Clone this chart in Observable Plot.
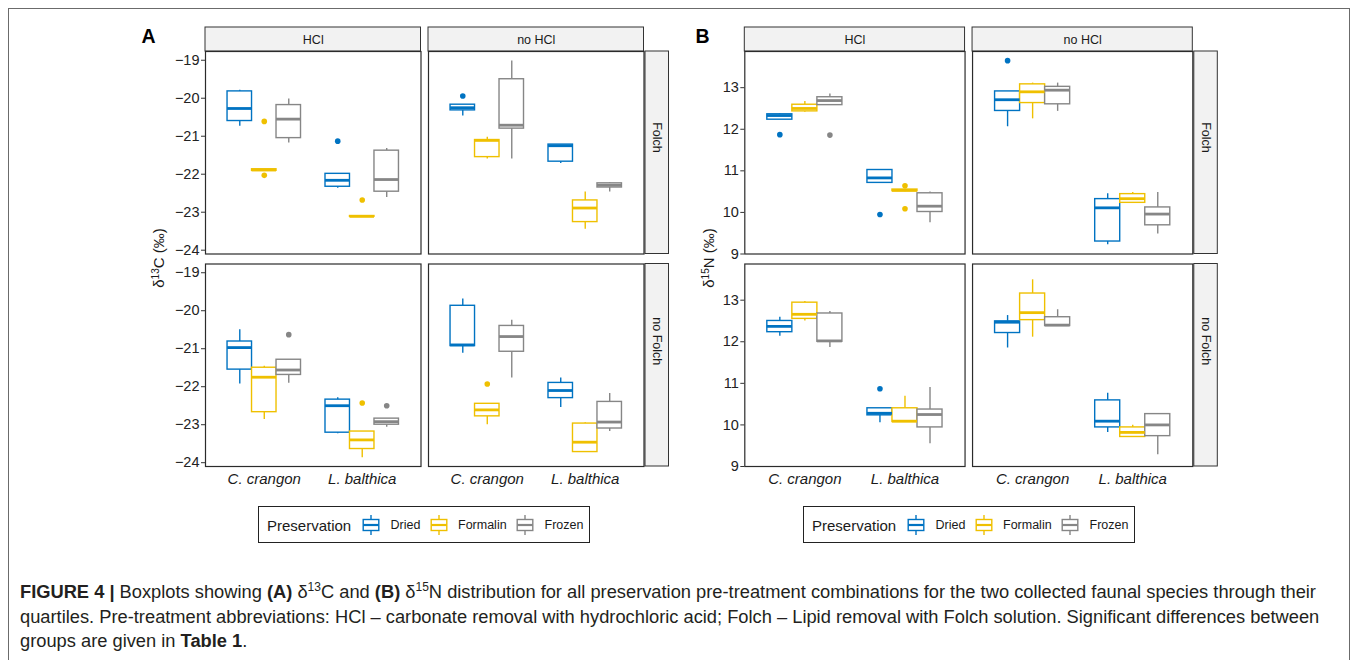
<!DOCTYPE html>
<html><head><meta charset="utf-8">
<script src="https://cdn.jsdelivr.net/npm/d3@7"></script>
<script src="https://cdn.jsdelivr.net/npm/@observablehq/plot@0.6"></script>
<style>
body{margin:0;background:#fff;}
#root{position:relative;width:1357px;height:660px;overflow:hidden;background:#fff;font-family:"Liberation Sans",Arial,sans-serif;color:#1a1a1a;}
.frame{position:absolute;left:8px;top:8px;width:1342px;height:700px;border:1px solid #6b6b6b;box-sizing:border-box;}
.letter{position:absolute;font-weight:bold;font-size:19.5px;line-height:19.5px;color:#000;}
.ytitle{position:absolute;font-size:15px;white-space:nowrap;transform:translate(-50%,-50%) rotate(-90deg);color:#1a1a1a;}
.ytitle sup{font-size:10px;vertical-align:5px;line-height:0;}
.legend{position:absolute;top:506px;width:332px;height:37px;border:1.3px solid #222;box-sizing:border-box;}
.legend .t{position:absolute;top:50%;transform:translateY(-50%);white-space:nowrap;}
.legend svg{position:absolute;top:50%;transform:translate(-50%,-50%);}
.caption{position:absolute;left:20px;top:580px;width:1330px;font-size:18.3px;line-height:24.5px;color:#231f20;white-space:nowrap;}
.caption sup{font-size:12px;vertical-align:7px;line-height:0;}
</style></head><body><div id="root"></div>
<script>
// ---------- categories ----------
const species = ["C. crangon", "L. balthica"];
const preservation = ["Dried", "Formalin", "Frozen"];
const hclLevels = ["HCl", "no HCl"];
const folchLevels = ["Folch", "no Folch"];
const palette = ["#0073C2", "#EFC000", "#868686"];

// ---------- tick labels ----------
const c13Ticks = [-24, -23, -22, -21, -20, -19];
const n15Ticks = [9, 10, 11, 12, 13];

// ---------- box statistics ----------
// each row: [lower whisker, Q1, median, Q3, upper whisker]
// rows: C. crangon Dried, Formalin, Frozen; L. balthica Dried, Formalin, Frozen
const c13_HCl_Folch = [
  [-20.74, -20.60, -20.27, -19.82, -19.79],
  [-21.92, -21.91, -21.89, -21.87, -21.87],
  [-21.18, -21.05, -20.55, -20.18, -20.02],
  [-22.37, -22.33, -22.16, -21.99, -21.99],
  [-23.12, -23.12, -23.11, -23.10, -23.10],
  [-22.61, -22.46, -22.14, -21.38, -21.32]
];
const c13_noHCl_Folch = [
  [-20.47, -20.32, -20.25, -20.17, -20.17],
  [-21.60, -21.55, -21.11, -21.10, -21.03],
  [-21.60, -20.80, -20.71, -19.50, -19.02],
  [-21.72, -21.67, -21.25, -21.22, -21.22],
  [-23.45, -23.26, -22.89, -22.69, -22.47],
  [-22.47, -22.35, -22.29, -22.24, -22.22]
];
const c13_HCl_noFolch = [
  [-21.93, -21.55, -20.97, -20.81, -20.50],
  [-22.86, -22.67, -21.75, -21.50, -21.46],
  [-21.91, -21.69, -21.56, -21.29, -21.29],
  [-23.24, -23.21, -22.50, -22.34, -22.29],
  [-23.87, -23.64, -23.40, -23.18, -23.18],
  [-23.07, -23.00, -22.92, -22.84, -22.84]
];
const c13_noHCl_noFolch = [
  [-21.12, -20.93, -20.90, -19.87, -19.69],
  [-23.00, -22.78, -22.61, -22.45, -22.45],
  [-21.77, -21.08, -20.68, -20.40, -20.25],
  [-22.55, -22.30, -22.10, -21.90, -21.77],
  [-23.72, -23.72, -23.46, -22.97, -22.95],
  [-23.18, -23.10, -22.93, -22.40, -22.18]
];
const n15_HCl_Folch = [
  [12.23, 12.23, 12.33, 12.36, 12.38],
  [12.41, 12.43, 12.50, 12.59, 12.67],
  [12.58, 12.58, 12.69, 12.77, 12.85],
  [10.71, 10.71, 10.83, 11.02, 11.02],
  [10.50, 10.51, 10.53, 10.55, 10.56],
  [9.75, 10.01, 10.15, 10.46, 10.49]
];
const n15_noHCl_Folch = [
  [12.06, 12.44, 12.71, 12.91, 12.91],
  [12.25, 12.63, 12.90, 13.08, 13.11],
  [12.43, 12.60, 12.94, 13.02, 13.11],
  [9.22, 9.30, 10.11, 10.32, 10.45],
  [10.23, 10.23, 10.33, 10.44, 10.48],
  [9.48, 9.69, 9.96, 10.12, 10.48]
];
const n15_HCl_noFolch = [
  [12.13, 12.23, 12.37, 12.50, 12.59],
  [12.50, 12.55, 12.66, 12.94, 12.97],
  [11.86, 12.00, 12.02, 12.68, 12.73],
  [10.05, 10.23, 10.28, 10.40, 10.40],
  [10.07, 10.07, 10.09, 10.40, 10.69],
  [9.55, 9.94, 10.25, 10.37, 10.90]
];
const n15_noHCl_noFolch = [
  [11.85, 12.21, 12.47, 12.49, 12.63],
  [12.11, 12.52, 12.70, 13.16, 13.49],
  [12.38, 12.38, 12.40, 12.59, 12.77],
  [9.82, 9.94, 10.09, 10.59, 10.76],
  [9.70, 9.71, 9.82, 9.94, 9.99],
  [9.28, 9.73, 10.00, 10.26, 10.26]
];

// ---------- outliers: [HCl, Folch, species, preservation, value] ----------
const c13Outliers = [
  ["HCl", "Folch", "C. crangon", "Formalin", -20.61],
  ["HCl", "Folch", "C. crangon", "Formalin", -22.03],
  ["HCl", "Folch", "L. balthica", "Dried", -21.13],
  ["HCl", "Folch", "L. balthica", "Formalin", -22.68],
  ["no HCl", "Folch", "C. crangon", "Dried", -19.94],
  ["HCl", "no Folch", "C. crangon", "Frozen", -20.63],
  ["HCl", "no Folch", "L. balthica", "Formalin", -22.43],
  ["HCl", "no Folch", "L. balthica", "Frozen", -22.50],
  ["no HCl", "no Folch", "C. crangon", "Formalin", -21.93]
];
const n15Outliers = [
  ["HCl", "Folch", "C. crangon", "Dried", 11.87],
  ["HCl", "Folch", "C. crangon", "Frozen", 11.86],
  ["HCl", "Folch", "L. balthica", "Dried", 9.95],
  ["HCl", "Folch", "L. balthica", "Formalin", 10.64],
  ["HCl", "Folch", "L. balthica", "Formalin", 10.09],
  ["no HCl", "Folch", "C. crangon", "Dried", 13.65],
  ["HCl", "no Folch", "L. balthica", "Dried", 10.87]
];

// ---------- helpers ----------
const dodge = (s, p) => species.indexOf(s) + 1 + (preservation.indexOf(p) - 1) * 0.25;
const halfW = 0.125;
const fmtTick = d => (d < 0 ? "\u2212" : "") + Math.abs(d);

function buildBoxes(panels) {
  const out = [];
  for (const [hcl, folch, rows] of panels) {
    rows.forEach((r, i) => {
      const s = species[Math.floor(i / 3)], p = preservation[i % 3];
      out.push({hcl, folch, species: s, pres: p, pos: dodge(s, p),
        lo: r[0], q1: r[1], med: r[2], q3: r[3], hi: r[4]});
    });
  }
  return out;
}
function buildOutliers(list) {
  return list.map(([hcl, folch, s, p, v]) => ({hcl, folch, species: s, pres: p, pos: dodge(s, p), v}));
}

const root = document.getElementById("root");
const FONT = '"Liberation Sans", Arial, sans-serif';

function figure(cfg) {
  const gapX = 7.5, gapY = 10;
  const stepX = (cfg.frameW + gapX) / 2, pX = gapX / stepX, bandW = stepX - gapX;
  const stepY = (cfg.frameH + gapY) / 2, pY = gapY / stepY, bandH = stepY - gapY;
  const boxes = buildBoxes(cfg.panels);
  const outl = buildOutliers(cfg.outliers);
  const topStrips = hclLevels.map(h => ({hcl: h, folch: folchLevels[0]}));
  const rightStrips = folchLevels.map(f => ({hcl: hclLevels[1], folch: f}));
  const chart = Plot.plot({
    width: cfg.width,
    height: cfg.marginTop + cfg.frameH + cfg.marginBottom,
    marginLeft: cfg.marginLeft,
    marginRight: cfg.width - cfg.marginLeft - cfg.frameW,
    marginTop: cfg.marginTop,
    marginBottom: cfg.marginBottom,
    style: {fontFamily: FONT, fontSize: "14px", background: "none", overflow: "visible", color: "#1a1a1a"},
    x: {type: "linear", domain: [0.4, 2.6]},
    y: {domain: cfg.domain},
    fx: {domain: hclLevels, paddingInner: pX, paddingOuter: 0, round: false, axis: null, label: null},
    fy: {domain: folchLevels, paddingInner: pY, paddingOuter: 0, round: false, axis: null, label: null},
    color: {domain: preservation, range: palette},
    marks: [
      Plot.rect(topStrips, {fx: "hcl", fy: "folch", insetTop: -24, insetBottom: bandH,
        fill: "#f2f2f2", stroke: "#333", strokeWidth: 1}),
      Plot.text(topStrips, {fx: "hcl", fy: "folch", text: "hcl", frameAnchor: "top", lineAnchor: "middle",
        dy: -12, fontSize: 12.5, fill: "#1a1a1a"}),
      Plot.rect(rightStrips, {fx: "hcl", fy: "folch", insetRight: -25, insetLeft: bandW + 1.5,
        fill: "#f2f2f2", stroke: "#333", strokeWidth: 1}),
      Plot.text(rightStrips, {fx: "hcl", fy: "folch", text: "folch", frameAnchor: "right", rotate: 90,
        dx: 13.2, fontSize: 12.5, fill: "#1a1a1a"}),
      Plot.ruleX(boxes, {fx: "hcl", fy: "folch", x: "pos", y1: "lo", y2: "q1", stroke: "pres", strokeWidth: 1.4}),
      Plot.ruleX(boxes, {fx: "hcl", fy: "folch", x: "pos", y1: "q3", y2: "hi", stroke: "pres", strokeWidth: 1.4}),
      Plot.rect(boxes, {fx: "hcl", fy: "folch", x1: d => d.pos - halfW, x2: d => d.pos + halfW,
        y1: "q1", y2: "q3", fill: "white", stroke: "pres", strokeWidth: 1.4}),
      Plot.ruleY(boxes, {fx: "hcl", fy: "folch", y: "med", x1: d => d.pos - halfW, x2: d => d.pos + halfW,
        stroke: "pres", strokeWidth: 2.8}),
      Plot.dot(outl, {fx: "hcl", fy: "folch", x: "pos", y: "v", fill: "pres", r: 2.8}),
      Plot.frame({stroke: "#2b2b2b", strokeWidth: 1.2}),
      Plot.axisY({ticks: cfg.ticks, tickFormat: fmtTick, tickSize: 4, tickPadding: 2, fontSize: 14.5,
        stroke: "#333", fill: "#222", label: null}),
      Plot.axisX({ticks: [1, 2], tickFormat: d => species[d - 1], tickSize: 0, tickPadding: 7,
        fontSize: 15, fontStyle: "italic", fill: "#1a1a1a", label: null})
    ]
  });
  chart.style.position = "absolute";
  chart.style.left = cfg.left + "px";
  chart.style.top = cfg.top + "px";
  root.appendChild(chart);

  const L = document.createElement("div");
  L.className = "letter"; L.textContent = cfg.letter;
  L.style.left = cfg.letterX + "px"; L.style.top = "26.5px";
  root.appendChild(L);

  const Y = document.createElement("div");
  Y.className = "ytitle"; Y.innerHTML = cfg.ytitle;
  Y.style.left = cfg.ytitleX + "px"; Y.style.top = "258px";
  root.appendChild(Y);

  const lg = document.createElement("div");
  lg.className = "legend"; lg.style.left = cfg.legendX + "px";
  let html = '<span class="t" style="left:8px;font-size:15px;color:#1a1a1a">Preservation</span>';
  const glyphX = [112, 180, 266], textX = [131.5, 199, 285.5];
  preservation.forEach((p, i) => {
    const c = palette[i];
    html += `<svg width="18" height="22" style="left:${glyphX[i]}px"><line x1="9" x2="9" y1="1" y2="21" stroke="${c}" stroke-width="1.4"/><rect x="1.2" y="5.5" width="15.6" height="11" fill="white" stroke="${c}" stroke-width="1.4"/><line x1="1.2" x2="16.8" y1="11" y2="11" stroke="${c}" stroke-width="2.2"/></svg>`;
    html += `<span class="t" style="left:${textX[i]}px;font-size:12.5px;color:#1a1a1a">${p}</span>`;
  });
  lg.innerHTML = html;
  root.appendChild(lg);
}

const fr = document.createElement("div"); fr.className = "frame"; root.appendChild(fr);

figure({
  left: 130, top: 20, width: 544, marginLeft: 75, frameW: 438.5, marginTop: 31, frameH: 415, marginBottom: 25,
  domain: [-24.1, -18.77], ticks: c13Ticks,
  panels: [["HCl", "Folch", c13_HCl_Folch], ["no HCl", "Folch", c13_noHCl_Folch],
           ["HCl", "no Folch", c13_HCl_noFolch], ["no HCl", "no Folch", c13_noHCl_noFolch]],
  outliers: c13Outliers,
  letter: "A", letterX: 141.5, ytitle: "δ<sup>13</sup>C (‰)", ytitleX: 158, legendX: 258
});
figure({
  left: 675, top: 20, width: 548, marginLeft: 69.3, frameW: 448, marginTop: 31, frameH: 415, marginBottom: 25,
  domain: [9.0, 13.87], ticks: n15Ticks,
  panels: [["HCl", "Folch", n15_HCl_Folch], ["no HCl", "Folch", n15_noHCl_Folch],
           ["HCl", "no Folch", n15_HCl_noFolch], ["no HCl", "no Folch", n15_noHCl_noFolch]],
  outliers: n15Outliers,
  letter: "B", letterX: 695.5, ytitle: "δ<sup>15</sup>N (‰)", ytitleX: 708, legendX: 803
});

const cap = document.createElement("div");
cap.className = "caption";
cap.innerHTML = '<b>FIGURE 4 |</b> Boxplots showing <b>(A)</b> δ<sup>13</sup>C and <b>(B)</b> δ<sup>15</sup>N distribution for all preservation pre-treatment combinations for the two collected faunal species through their<br>quartiles. Pre-treatment abbreviations: HCl – carbonate removal with hydrochloric acid; Folch – Lipid removal with Folch solution. Significant differences between<br>groups are given in <b>Table 1</b>.';
root.appendChild(cap);
</script></body></html>
